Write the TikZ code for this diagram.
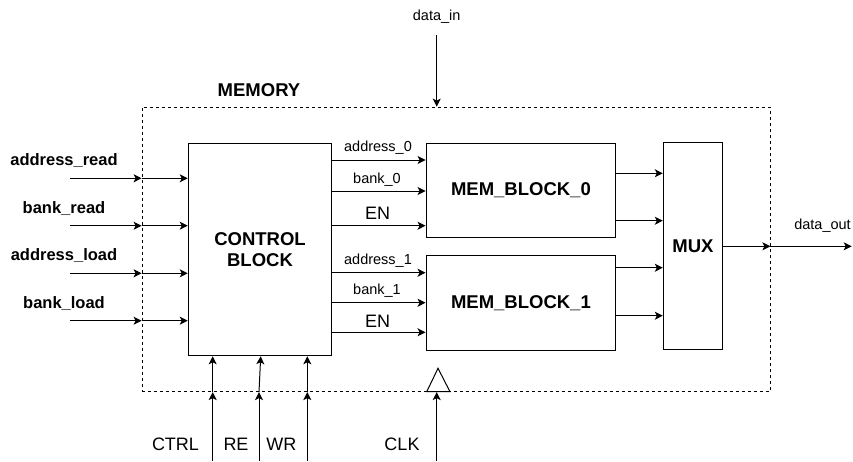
\documentclass[tikz,border=0pt]{standalone}
\usepackage{fontspec}
\setmainfont{Liberation Sans}
\usepackage{tikz}
\usetikzlibrary{positioning,arrows.meta,calc}

\begin{document}
\begin{tikzpicture}[x=1pt, y=-1pt, >={Stealth[length=8pt,width=8pt,inset=2pt]},
    blk/.style={draw, line width=1pt, fill=white, inner sep=0pt, align=center,
      font=\fontsize{18.5}{21}\selectfont\bfseries},
    wire/.style={->, line width=1pt},
    pin/.style={font=\fontsize{16.5}{18}\selectfont\bfseries},
    sig/.style={font=\fontsize{14.5}{16}\selectfont},
    big/.style={font=\fontsize{18}{20}\selectfont}]
  \useasboundingbox (0,0) rectangle (853,461);

  % memory boundary
  \node[draw, dash pattern=on 3pt off 3pt, line width=0.8pt, inner sep=0pt,
    minimum width=628pt, minimum height=284.7pt] (memory) at (456,249.35) {};
  \node[blk, draw=none, fill=none] (memlbl) at (259,90) {MEMORY};

  % blocks
  \node[blk, minimum width=143.5pt, minimum height=212.7pt] (ctrl) at (260,249.4) {CONTROL\\BLOCK};
  \node[blk, minimum width=189.7pt, minimum height=94pt] (mem0) at (520.9,190) {MEM\_BLOCK\_0};
  \node[blk, minimum width=189.7pt, minimum height=94.3pt] (mem1) at (520.9,302.9) {MEM\_BLOCK\_1};
  \node[blk, minimum width=59.4pt, minimum height=207.3pt] (mux) at (693,246.3) {MUX};

  % inputs on the left
  \foreach \nm/\y/\txt in {ar/178.3/address\_read, br/225.7/bank\_read,
                           al/273.3/address\_load, bl/320.7/bank\_load} {
    \coordinate (\nm) at (70,\y);
    \node[pin] (\nm lbl) at (64,\y-17.4) {\txt};
    \draw[wire] (\nm) -- (\nm -| memory.west);
    \draw[wire] (\nm -| memory.west) -- (\nm -| ctrl.west);
  }

  % control block to memory blocks
  \foreach \nm/\y/\blk in {a0/160/mem0, b0/191/mem0, e0/225.7/mem0,
                           a1/272.7/mem1, b1/302.7/mem1, e1/332.3/mem1} {
    \coordinate (\nm) at (0,\y);
    \draw[wire] (ctrl.east |- \nm) -- (\blk.west |- \nm);
  }
  \node[sig] (a0lbl) at (378,147.5) {address\_0};
  \node[sig] (b0lbl) at (377,180) {bank\_0};
  \node[big] (e0lbl) at (377.5,213) {EN};
  \node[sig] (a1lbl) at (378,261) {address\_1};
  \node[sig] (b1lbl) at (377,290.5) {bank\_1};
  \node[big] (e1lbl) at (377.5,321.5) {EN};

  % memory blocks to mux
  \foreach \nm/\y/\blk in {m0a/173.3/mem0, m0b/220.7/mem0, m1a/267.7/mem1, m1b/315.7/mem1} {
    \coordinate (\nm) at (0,\y);
    \draw[wire] (\blk.east |- \nm) -- (mux.west |- \nm);
  }

  % output
  \coordinate (dout) at (851.7,246.3);
  \draw[wire] (mux.east) -- (mux.east -| memory.east);
  \draw[wire] (mux.east -| memory.east) -- (dout);
  \node[sig] (doutlbl) at (822.5,226) {data\_out};

  % data in
  \coordinate (din) at (436.7,35);
  \node[sig] (dinlbl) at (436.7,17) {data\_in};
  \draw[wire] (din) -- (din |- memory.north);

  % control pins at the bottom
  \foreach \nm/\x/\txt/\lx in {ctl/212.7/CTRL/175.5, we/307.3/WR/281.3} {
    \coordinate (\nm) at (\x,461);
    \node[big] (\nm lbl) at (\lx,444) {\txt};
    \draw[wire] (\nm) -- (\nm |- memory.south);
    \draw[wire] (\nm |- memory.south) -- (\nm |- ctrl.south);
  }
  \coordinate (re) at (259,461);
  \node[big] (relbl) at (236,444) {RE};
  \draw[wire] (re) -- (re |- memory.south);
  \draw[wire] (re |- memory.south) -- ([xshift=1.7pt]re |- ctrl.south);

  % clock
  \coordinate (clk) at (436.7,461);
  \node[big] (clklbl) at (402,444) {CLK};
  \draw[wire] (clk) -- (clk |- memory.south);
  \draw[line width=1pt, fill=white] (426.7,391.7) -- (438,368.3) -- (450,391.7) -- cycle;
\end{tikzpicture}
\end{document}
